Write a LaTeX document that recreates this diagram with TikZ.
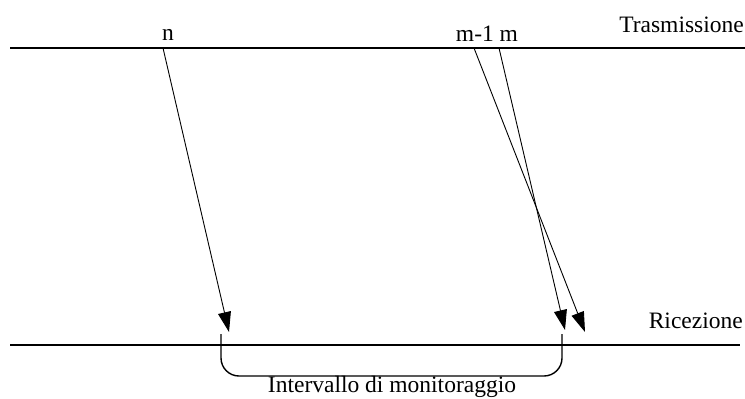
\documentclass[tikz,border=0pt]{standalone}
\usepackage{fontspec}
\setmainfont{Liberation Serif}
\usetikzlibrary{arrows.meta}
\begin{document}
\begin{tikzpicture}[x=1bp,y=-1bp,
  axis/.style={line width=1.4bp},
  msg/.style={line width=0.9bp,-{Triangle[length=20bp,width=13bp]}},
  lbl/.style={inner sep=0pt,font=\fontsize{23.6}{27}\selectfont},
  brk/.style={line width=1.4bp,rounded corners=18bp}]
\useasboundingbox (0,0) rectangle (745,398);
% axes
\coordinate (t0) at (10,48);
\coordinate (t1) at (745,48);
\coordinate (r0) at (10,345);
\coordinate (r1) at (740,345);
\draw[axis] (t0) -- (t1);
\draw[axis] (r0) -- (r1);
% labels
\node[lbl,anchor=base] (ln) at (168,40) {n};
\node[lbl,anchor=base] (lm) at (487,41) {m-1 m};
\node[lbl,anchor=base east] (ltx) at (744,32) {Trasmissione};
\node[lbl,anchor=base east] (lrx) at (743,328) {Ricezione};
\node[lbl,anchor=base] (lint) at (392,392) {Intervallo di monitoraggio};
% messages
\coordinate (sn) at (163,48);
\coordinate (en) at (229,332);
\coordinate (sm1) at (474,48);
\coordinate (em1) at (585,332);
\coordinate (sm) at (499,48);
\coordinate (em) at (565,330);
\draw[msg] (sn) -- (en);
\draw[msg] (sm1) -- (em1);
\draw[msg] (sm) -- (em);
% bracket
\coordinate (b0) at (221,334);
\coordinate (b1) at (562,334);
\draw[brk] (b0) -- (221,376) -- (562,376) -- (b1);
\end{tikzpicture}
\end{document}
